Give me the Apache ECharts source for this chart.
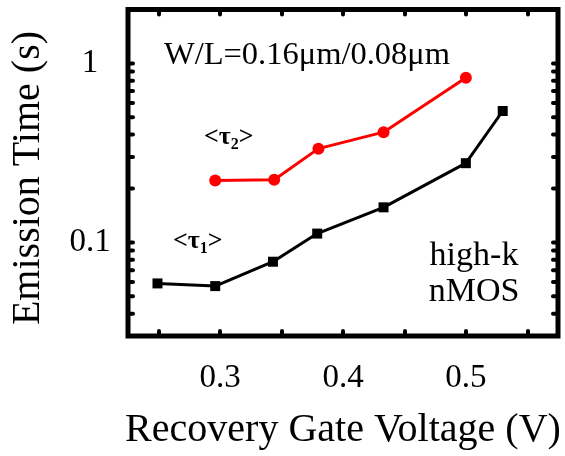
<!DOCTYPE html>
<html>
<head>
<meta charset="utf-8">
<script src="https://cdn.jsdelivr.net/npm/echarts@6/dist/echarts.min.js"></script>
<style>html,body{margin:0;padding:0;background:#fff}#c{width:565px;height:456px}</style>
</head>
<body>
<div id="c"></div>
<script>
// Data
var tau1X = [0.249, 0.296, 0.343, 0.379, 0.433, 0.500, 0.530];
var tau1Y = [0.059, 0.057, 0.078, 0.112, 0.157, 0.277, 0.542];
var tau2X = [0.296, 0.344, 0.380, 0.433, 0.500];
var tau2Y = [0.222, 0.224, 0.334, 0.413, 0.832];
var xLabels = [0.3, 0.4, 0.5];
var yLabels = [0.1, 1];
var yTicks = [0.03, 0.04, 0.05, 0.06, 0.07, 0.08, 0.09, 0.1, 0.2, 0.3, 0.4, 0.5, 0.6, 0.7, 0.8, 0.9, 1, 2];
var X_MIN = 0.225, X_MAX = 0.575, Y_MIN = 0.03, Y_MAX = 2;

var FONT = '"Liberation Serif", "DejaVu Serif", serif';
function pairs(xs, ys) { return xs.map(function (x, i) { return [x, ys[i]]; }); }
function near(a, b) { return Math.abs(a - b) < 1e-6 * Math.max(1, Math.abs(b)); }

var chart = echarts.init(document.getElementById('c'), null, { renderer: 'canvas' });
var tickLen = 5;
chart.setOption({
  animation: false,
  backgroundColor: '#fff',
  grid: { left: 128, right: 7, top: 9.5, bottom: 120, show: true, borderColor: '#000', borderWidth: 5, backgroundColor: 'transparent' },
  xAxis: [{
    type: 'value', min: X_MIN, max: X_MAX, splitNumber: 7, position: 'bottom',
    axisLine: { show: false }, splitLine: { show: false },
    axisTick: { show: true, inside: true, length: tickLen, lineStyle: { color: '#000', width: 4, cap: 'round' } },
    axisLabel: {
      margin: 26, fontFamily: FONT, fontSize: 33, color: '#000',
      formatter: function (v) { for (var i = 0; i < xLabels.length; i++) if (near(v, xLabels[i])) return String(xLabels[i]); return ''; }
    }
  }, {
    type: 'value', min: X_MIN, max: X_MAX, splitNumber: 7, position: 'top',
    axisLine: { show: false }, splitLine: { show: false }, axisLabel: { show: false },
    axisTick: { show: true, inside: true, length: tickLen, lineStyle: { color: '#000', width: 4, cap: 'round' } }
  }],
  yAxis: [{
    type: 'log', logBase: 10, min: Y_MIN, max: Y_MAX,
    axisLine: { show: false }, splitLine: { show: false }, axisTick: { show: false },
    axisLabel: {
      margin: 38, align: 'center', fontFamily: FONT, fontSize: 33, color: '#000', showMinLabel: true, showMaxLabel: true,
      formatter: function (v) { for (var i = 0; i < yLabels.length; i++) if (near(v, yLabels[i])) return String(yLabels[i]); return ''; }
    }
  }],
  series: [{
    type: 'custom', silent: true, clip: false, z: 5,
    data: yTicks.map(function (v) { return [X_MIN, v]; }),
    renderItem: function (params, api) {
      var cs = params.coordSys;
      var y = api.coord([X_MIN, api.value(1)])[1];
      var st = { stroke: '#000', lineWidth: 4, lineCap: 'round' };
      return { type: 'group', children: [
        { type: 'line', shape: { x1: cs.x, y1: y, x2: cs.x + tickLen, y2: y }, style: st },
        { type: 'line', shape: { x1: cs.x + cs.width, y1: y, x2: cs.x + cs.width - tickLen, y2: y }, style: st }
      ] };
    }
  }, {
    name: '<τ1>', type: 'line', data: pairs(tau1X, tau1Y), z: 3,
    symbol: 'rect', symbolSize: 10, itemStyle: { color: '#000' },
    lineStyle: { color: '#000', width: 3 }
  }, {
    name: '<τ2>', type: 'line', data: pairs(tau2X, tau2Y), z: 3,
    symbol: 'circle', symbolSize: 12, itemStyle: { color: '#ff0000' },
    lineStyle: { color: '#ff0000', width: 3 }
  }],
  graphic: [
    { type: 'text', x: 343, y: 430, style: { text: 'Recovery Gate Voltage (V)', font: '40px ' + FONT, fill: '#000', align: 'center', verticalAlign: 'middle' } },
    { type: 'text', x: 28, y: 178, rotation: Math.PI / 2, style: { text: 'Emission Time (s)', font: '40px ' + FONT, fill: '#000', align: 'center', verticalAlign: 'middle' } },
    { type: 'text', x: 307, y: 55, style: { text: 'W/L=0.16μm/0.08μm', font: '32.5px ' + FONT, fill: '#000', align: 'center', verticalAlign: 'middle' } },
    { type: 'text', x: 474, y: 256, style: { text: 'high-k\nnMOS', font: '34px ' + FONT, lineHeight: 36, fill: '#000', align: 'center', verticalAlign: 'top', y: -18 } },
    { type: 'text', x: 204, y: 137, style: { text: '{a|<τ}{s|2}{a|>}', fill: '#000', verticalAlign: 'middle', rich: { a: { font: 'bold 26px ' + FONT, fill: '#000' }, s: { font: 'bold 16px ' + FONT, fill: '#000', padding: [16, 0, 0, 0] } } } },
    { type: 'text', x: 173, y: 241, style: { text: '{a|<τ}{s|1}{a|>}', fill: '#000', verticalAlign: 'middle', rich: { a: { font: 'bold 26px ' + FONT, fill: '#000' }, s: { font: 'bold 16px ' + FONT, fill: '#000', padding: [16, 0, 0, 0] } } } }
  ]
});
</script>
</body>
</html>
